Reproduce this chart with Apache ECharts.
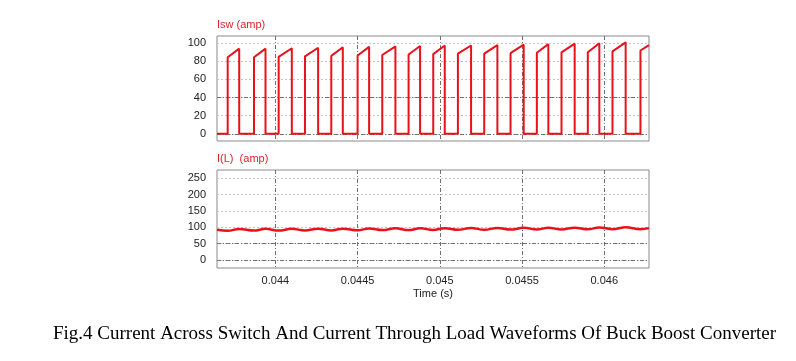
<!DOCTYPE html>
<html><head><meta charset="utf-8">
<script src="https://cdn.jsdelivr.net/npm/echarts@6/dist/echarts.min.js"></script>
<style>html,body{margin:0;padding:0;background:#fff}#c{width:796px;height:361px}</style>
</head><body><div id="c"></div>
<script>
// ---- data ----
const timeRange = [0.043645, 0.046272];
const timeTicks = [0.044, 0.0445, 0.045, 0.0455, 0.046];
const iswTicks = [0, 20, 40, 60, 80, 100];
const ilTicks = [0, 50, 100, 150, 200, 250];
// switch turn-on / turn-off instants (s)
const riseTimes = [0.04371, 0.04387, 0.04402, 0.04418, 0.04434, 0.04450, 0.04465, 0.04481, 0.04496, 0.04511, 0.04527, 0.04543, 0.04559, 0.04574, 0.04590, 0.04605, 0.04622];
const fallTimes = [0.04378, 0.04394, 0.04410, 0.04426, 0.04441, 0.04457, 0.04473, 0.04488, 0.04503, 0.04519, 0.04535, 0.04551, 0.04566, 0.04582, 0.04597, 0.04613];
// switch current at turn-on and turn-off (amp)
const iswOn  = [84.5, 84.5, 85, 85.5, 86, 86.5, 87, 87.5, 88, 88.5, 88.5, 89, 89.5, 90, 90, 91, 92];
const iswOff = [94, 94, 94.5, 95, 95.5, 96, 96.5, 97, 97.5, 97.5, 98, 98.5, 99, 99.5, 100, 101];
const iswEnd = 98;
// load current troughs (at turn-on) and peaks (at turn-off) (amp)
const ilTrough = [89, 89.5, 89.5, 90, 90, 90.5, 91, 91, 91.5, 92, 92, 92.5, 93, 93, 93.5, 94, 94];
const ilPeak   = [94.5, 95, 95, 95.5, 95.5, 96, 96.5, 96.5, 97, 97.5, 97.5, 98, 98, 98.5, 99, 99.5];
const ilStart = 92, ilEnd = 97;

// ---- build series ----
const iswData = [[timeRange[0], 0]];
riseTimes.forEach((r, i) => {
  iswData.push([r, 0], [r, iswOn[i]]);
  if (i < fallTimes.length) iswData.push([fallTimes[i], iswOff[i]], [fallTimes[i], 0]);
  else iswData.push([timeRange[1], iswEnd]);
});
const ilData = [[timeRange[0], ilStart]];
riseTimes.forEach((r, i) => {
  ilData.push([r, ilTrough[i]]);
  if (i < fallTimes.length) ilData.push([fallTimes[i], ilPeak[i]]);
});
ilData.push([timeRange[1], ilEnd]);

const RED = '#e8121a';
const lab = {fontFamily: 'Liberation Sans, Arial, sans-serif', fontSize: 11, color: '#222'};
const darkLine = {color: '#707070', type: [4, 2, 1, 2], width: 1};
const lightLine = {color: '#c4c4c4', type: [2, 2], width: 1};

const chart = echarts.init(document.getElementById('c'), null, {renderer: 'canvas'});
chart.setOption({
  animation: false,
  backgroundColor: '#fff',
  grid: [
    {left: 217, top: 36, width: 432, height: 105, show: true, borderColor: '#8a8a8a', borderWidth: 1},
    {left: 217, top: 170, width: 432, height: 98, show: true, borderColor: '#8a8a8a', borderWidth: 1}
  ],
  xAxis: [0, 1].map(g => ({
    type: 'value', gridIndex: g, min: timeRange[0], max: timeRange[1],
    axisLine: {show: false}, axisTick: {show: false, customValues: timeTicks},
    axisLabel: {show: g === 1, customValues: timeTicks, margin: 7, ...lab, formatter: v => String(+v.toFixed(5))},
    splitLine: {show: true, lineStyle: darkLine},
    name: g === 1 ? 'Time (s)' : '', nameLocation: 'middle', nameGap: 20,
    nameTextStyle: lab
  })),
  yAxis: [
    {type: 'value', gridIndex: 0, min: -8, max: 108,
     axisLine: {show: false}, axisTick: {show: false, customValues: iswTicks},
     axisLabel: {customValues: iswTicks, margin: 11, ...lab},
     splitLine: {show: true, lineStyle: lightLine}},
    {type: 'value', gridIndex: 1, min: -25, max: 275,
     axisLine: {show: false}, axisTick: {show: false, customValues: ilTicks},
     axisLabel: {customValues: ilTicks, margin: 11, ...lab},
     splitLine: {show: true, lineStyle: lightLine}}
  ],
  series: [
    {type: 'line', xAxisIndex: 0, yAxisIndex: 0, data: iswData, showSymbol: false,
     lineStyle: {color: RED, width: 2}, z: 5,
     markLine: {silent: true, symbol: 'none', label: {show: false}, lineStyle: darkLine,
       data: [{yAxis: 0}, {yAxis: 40}]}},
    {type: 'line', xAxisIndex: 1, yAxisIndex: 1, data: ilData, showSymbol: false, smooth: 0.4,
     lineStyle: {color: RED, width: 2.5}, z: 5,
     markLine: {silent: true, symbol: 'none', label: {show: false}, lineStyle: darkLine,
       data: [{yAxis: 0}, {yAxis: 50}]}}
  ],
  graphic: [
    {type: 'text', left: 217, top: 19, style: {text: 'Isw (amp)', fill: '#d8232a', font: '11px Liberation Sans, Arial, sans-serif'}},
    {type: 'text', left: 217, top: 153, style: {text: 'I(L)  (amp)', fill: '#d8232a', font: '11px Liberation Sans, Arial, sans-serif'}},
    {type: 'text', left: 53, top: 325, style: {text: 'Fig.4 Current Across Switch And Current Through Load Waveforms Of Buck Boost Converter', fill: '#000', font: '19px Liberation Serif, Times New Roman, serif'}}
  ]
});
</script></body></html>
